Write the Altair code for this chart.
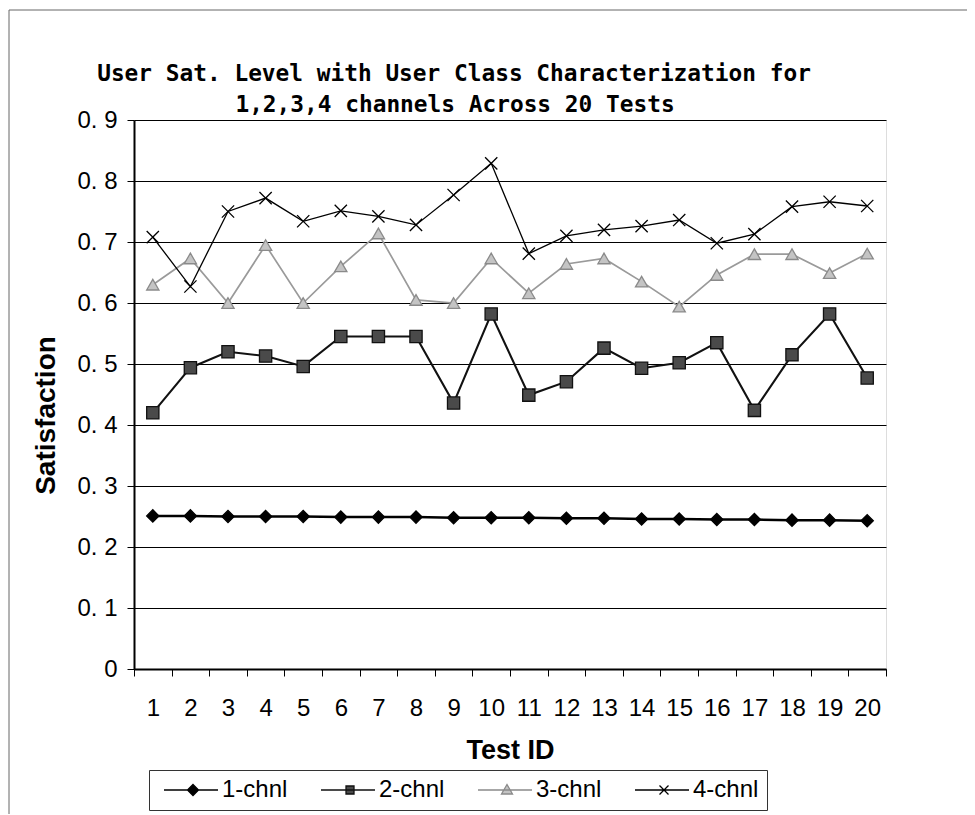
import altair as alt
import pandas as pd

tests = list(range(1, 21))
series_names = ["1-chnl", "2-chnl", "3-chnl", "4-chnl"]

chnl1 = [0.251, 0.251, 0.250, 0.250, 0.250, 0.249, 0.249, 0.249, 0.248, 0.248,
         0.248, 0.247, 0.247, 0.246, 0.246, 0.245, 0.245, 0.244, 0.244, 0.243]
chnl2 = [0.420, 0.494, 0.520, 0.513, 0.496, 0.545, 0.545, 0.545, 0.436, 0.582,
         0.449, 0.471, 0.526, 0.493, 0.502, 0.535, 0.424, 0.515, 0.582, 0.477]
chnl3 = [0.630, 0.673, 0.600, 0.695, 0.600, 0.660, 0.714, 0.605, 0.600, 0.673,
         0.616, 0.664, 0.673, 0.635, 0.594, 0.646, 0.680, 0.680, 0.649, 0.681]
chnl4 = [0.708, 0.627, 0.750, 0.772, 0.734, 0.751, 0.742, 0.728, 0.777, 0.829,
         0.681, 0.710, 0.720, 0.726, 0.736, 0.698, 0.713, 0.758, 0.766, 0.759]

y_ticks = [0, 0.1, 0.2, 0.3, 0.4, 0.5, 0.6, 0.7, 0.8, 0.9]

title_lines = ["User Sat. Level with User Class Characterization for",
               "1,2,3,4 channels Across 20 Tests"]

rows = []
for name, vals in zip(series_names, [chnl1, chnl2, chnl3, chnl4]):
    for t, v in zip(tests, vals):
        rows.append({"test": t, "value": v, "series": name})
df = pd.DataFrame(rows)

LABEL_FONT = "Liberation Sans"

x_enc = alt.X(
    "test:O",
    sort=tests,
    scale=alt.Scale(type="band", domain=tests, paddingInner=0, paddingOuter=0),
    axis=alt.Axis(
        labelAngle=0,
        labelBaseline="middle",
        labelPadding=32,
        labelFont=LABEL_FONT,
        labelFontSize=24,
        labelColor="black",
        labelOverlap=False,
        grid=False,
        tickBand="extent",
        tickSize=7,
        tickColor="black",
        tickWidth=1,
        domainColor="black",
        domainWidth=2,
        title="Test  ID",
        titleFont=LABEL_FONT,
        titleFontSize=27,
        titleFontWeight="bold",
        titleColor="black",
        titleY=81,
        titleBaseline="middle",
    ),
)

y_enc = alt.Y(
    "value:Q",
    scale=alt.Scale(domain=[0, 0.9], nice=False),
    axis=alt.Axis(
        values=y_ticks,
        format="~g",
        labelExpr="replace(datum.label, '.', '. ')",
        labelFont=LABEL_FONT,
        labelFontSize=24,
        labelColor="black",
        labelPadding=10,
        labelBaseline="middle",
        grid=True,
        gridColor="black",
        gridWidth=1,
        tickSize=7,
        tickColor="black",
        tickWidth=1,
        domainColor="black",
        domainWidth=2,
        title="Satisfaction",
        titleFont=LABEL_FONT,
        titleFontSize=28,
        titleFontWeight="bold",
        titleColor="black",
        titleX=-88,
        titleY=295,
        titleAngle=270,
        titleAlign="center",
        titleBaseline="middle",
    ),
)

base = alt.Chart(df)

lines = base.mark_line().encode(
    x=x_enc,
    y=y_enc,
    stroke=alt.Stroke("series:N",
                      scale=alt.Scale(domain=series_names,
                                      range=["#000000", "#111111", "#9a9a9a", "#000000"]),
                      legend=None),
    strokeWidth=alt.StrokeWidth("series:N",
                                scale=alt.Scale(domain=series_names, range=[2.5, 1.3, 1.0, 1.9]),
                                legend=None),
)

cross_path = "M-1,-1L1,1M-1,1L1,-1"
points = base.mark_point(opacity=1, strokeWidth=1.3).encode(
    x=x_enc,
    y=y_enc,
    shape=alt.Shape("series:N",
                    scale=alt.Scale(domain=series_names,
                                    range=["diamond", "square", "triangle-up", cross_path]),
                    legend=None),
    fill=alt.Fill("series:N",
                  scale=alt.Scale(domain=series_names,
                                  range=["#000000", "#4a4a4a", "#c4c4c4", "transparent"]),
                  legend=None),
    stroke=alt.Stroke("series:N",
                      scale=alt.Scale(domain=series_names,
                                      range=["#000000", "#111111", "#8a8a8a", "#000000"]),
                      legend=None),
    size=alt.Size("series:N",
                  scale=alt.Scale(domain=series_names, range=[150, 150, 170, 200]),
                  legend=None),
)

line_seg = "M-1,0L9.8,0"
legend_paths = [
    line_seg + "M4.8,-1.1L5.9,0L4.8,1.1L3.7,0Z",
    line_seg + "M4,-0.8L5.6,-0.8L5.6,0.8L4,0.8Z",
    line_seg + "M4.8,-1.1L5.9,0.8L3.7,0.8Z",
    line_seg + "M3.9,-0.9L5.7,0.9M3.9,0.9L5.7,-0.9",
]

leg = alt.Legend(
    title=None,
    orient="none",
    legendX=15,
    legendY=650,
    direction="horizontal",
    strokeColor="#333333",
    padding=8,
    symbolSize=100,
    symbolStrokeWidth=1.3,
    labelOffset=41,
    columnPadding=26,
    labelFont=LABEL_FONT,
    labelFontSize=24,
    labelColor="black",
)

legend_layer = base.transform_filter("datum.value < -1").mark_point(
    opacity=1, size=100, strokeWidth=1.3
).encode(
    x=x_enc,
    y=y_enc,
    shape=alt.Shape("series:N", scale=alt.Scale(domain=series_names, range=legend_paths), legend=leg),
    fill=alt.Fill("series:N",
                  scale=alt.Scale(domain=series_names,
                                  range=["#000000", "#4a4a4a", "#c4c4c4", "transparent"]),
                  legend=leg),
    stroke=alt.Stroke("series:N",
                      scale=alt.Scale(domain=series_names,
                                      range=["#000000", "#111111", "#8a8a8a", "#000000"]),
                      legend=leg),
)

frame_df = pd.DataFrame({"k": [0]})
frame_v = alt.Chart(frame_df).mark_rule(color="#666666", strokeWidth=1).encode(
    x=alt.value(-125), y=alt.value(-110), y2=alt.value(700)
)
frame_h = alt.Chart(frame_df).mark_rule(color="#666666", strokeWidth=1).encode(
    x=alt.value(-125), x2=alt.value(850), y=alt.value(-110)
)

title_font = dict(font="DejaVu Sans Mono", fontSize=22.8, fontWeight="bold",
                  color="black", align="center", baseline="alphabetic")
title1 = alt.Chart(frame_df).mark_text(**title_font).encode(
    x=alt.value(320), y=alt.value(-39), text=alt.value(title_lines[0])
)
title2 = alt.Chart(frame_df).mark_text(**title_font).encode(
    x=alt.value(321), y=alt.value(-8), text=alt.value(title_lines[1])
)

chart = alt.layer(frame_v, frame_h, title1, title2, lines, points, legend_layer).resolve_scale(
    stroke="independent", fill="independent", shape="independent",
    size="independent", strokeWidth="independent"
).properties(
    width=752,
    height=549,
    autosize="none",
    padding={"left": 126, "top": 112, "right": 81, "bottom": 145},
).configure_view(
    stroke="black", strokeWidth=2
).configure(background="white")

chart.save("out.html", embed_options={"renderer": "svg", "actions": False})
